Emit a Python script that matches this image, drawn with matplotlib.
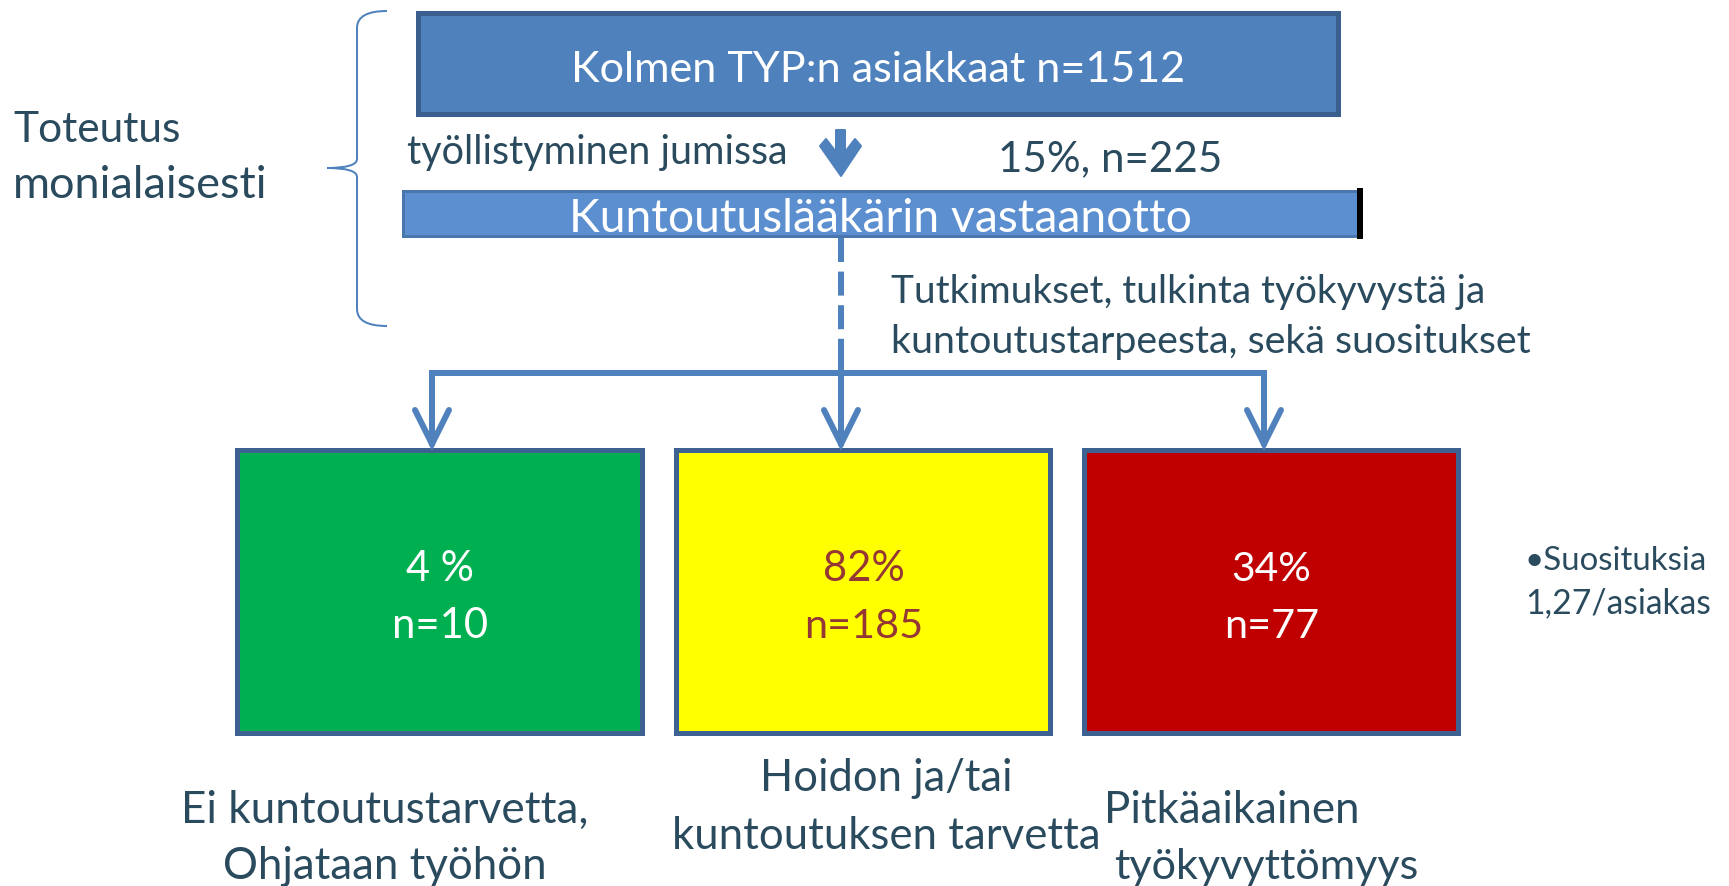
import matplotlib.pyplot as plt
from matplotlib.patches import Rectangle, Polygon, PathPatch
from matplotlib.path import Path

plt.rcParams['font.family'] = ['Lato', 'DejaVu Sans']

# content
side_lines = ["Toteutus", "monialaisesti"]
top_label = "Kolmen TYP:n asiakkaat n=1512"
step_label = "työllistyminen jumissa"
step_share = "15%, n=225"
bar_label = "Kuntoutuslääkärin vastaanotto"
note_lines = ["Tutkimukset, tulkinta työkyvystä ja",
              "kuntoutustarpeesta, sekä suositukset"]
shares = ["4 %", "82%", "34%"]
counts = [10, 185, 77]
outcome_lines = [["Ei kuntoutustarvetta,", "Ohjataan työhön"],
                 ["Hoidon ja/tai", "kuntoutuksen tarvetta"],
                 ["Pitkäaikainen", "työkyvyttömyys"]]
extra_lines = ["•Suosituksia", "1,27/asiakas"]

box_colors = ["#00B050", "#FFFF00", "#C00000"]
box_text_colors = ["white", "#953735", "white"]
TXT = "#2A4A5E"
BLUE = "#4F81BD"

W, H = 1729, 886
fig = plt.figure(figsize=(W / 100, H / 100), dpi=100)
ax = fig.add_axes([0, 0, 1, 1])
ax.set_xlim(0, W)
ax.set_ylim(H, 0)
ax.axis('off')
renderer = fig.canvas.get_renderer()

PX = 0.72  # points per pixel


def fit_text(x, y, s, width, **kw):
    t = ax.text(x, y, s, fontsize=30, va='baseline', **kw)
    bb = t.get_window_extent(renderer)
    t.set_fontsize(30 * width / bb.width)
    return t


# brace
verts = [(387, 11), (357, 11), (357, 28), (357, 159), (357, 168), (327, 168),
         (357, 168), (357, 177), (357, 309), (357, 326), (387, 326)]
codes = [Path.MOVETO, Path.CURVE3, Path.CURVE3, Path.LINETO, Path.CURVE3, Path.CURVE3,
         Path.CURVE3, Path.CURVE3, Path.LINETO, Path.CURVE3, Path.CURVE3]
ax.add_patch(PathPatch(Path(verts, codes), fill=False, ec=BLUE, lw=2 * PX))

fit_text(13, 142, side_lines[0], 168, color=TXT)
fit_text(13, 198, side_lines[1], 255, color=TXT)

# top box
ax.add_patch(Rectangle((418.5, 12.5), 920, 101, fc=BLUE, ec="#3B5F8C", lw=5 * PX))
fit_text(878, 82, top_label, 615, color="white", ha='center')

# small arrow
ax.add_patch(Polygon([(836, 130), (845, 130), (845, 152), (855, 139), (861, 146),
                      (841, 176), (820, 146), (826, 139), (836, 152)],
                     closed=True, fc=BLUE, ec=BLUE, lw=2 * PX, joinstyle='round'))
fit_text(407, 164, step_label, 381, color=TXT)
fit_text(998, 171, step_share, 224, color=TXT)

# second bar
ax.add_patch(Rectangle((403.5, 190.5), 955, 45, fc="#5B8FD0", ec="#4A76AE", lw=3 * PX))
ax.add_patch(Rectangle((1357, 188), 6, 51, fc="black", ec="none"))
fit_text(880, 232, bar_label, 623, color="white", ha='center')

# dashed + connectors
ax.plot([841, 841], [238, 340], color=BLUE, lw=6 * PX, dashes=(4.0, 1.6), solid_capstyle='butt')
ax.plot([841, 841], [340, 446], color=BLUE, lw=6 * PX, solid_capstyle='butt')
ax.plot([432, 1264], [373, 373], color=BLUE, lw=6 * PX, solid_capstyle='butt')
for xa in [432, 1264]:
    ax.plot([xa, xa], [370, 446], color=BLUE, lw=6 * PX, solid_capstyle='butt')
for xa in [432, 841, 1264]:
    ax.plot([xa - 17, xa, xa + 17], [410, 444, 410], color=BLUE, lw=6 * PX,
            solid_capstyle='round', solid_joinstyle='miter')

fit_text(891, 303, note_lines[0], 593, color=TXT)
fit_text(891, 353, note_lines[1], 640, color=TXT)

# result boxes
box_x = [(235, 645), (674, 1053), (1082, 1461)]
share_w = [68, 82, 80]
count_w = [96, 119, 95]
for i, (x0, x1) in enumerate(box_x):
    ax.add_patch(Rectangle((x0 + 2.5, 449.5), x1 - x0 - 5, 283,
                           fc=box_colors[i], ec="#3D6190", lw=5 * PX))
    cx = (x0 + x1) / 2
    fit_text(cx, 581, shares[i], share_w[i], color=box_text_colors[i], ha='center')
    fit_text(cx, 638, f"n={counts[i]}", count_w[i], color=box_text_colors[i], ha='center')

fit_text(1525, 570, extra_lines[0], 182, color=TXT)
fit_text(1525, 613, extra_lines[1], 186, color=TXT)

# outcome labels
fit_text(385, 823, outcome_lines[0][0], 406, color=TXT, ha='center')
fit_text(385, 879, outcome_lines[0][1], 323, color=TXT, ha='center')
fit_text(886, 791, outcome_lines[1][0], 252, color=TXT, ha='center')
fit_text(886, 849, outcome_lines[1][1], 428, color=TXT, ha='center')
fit_text(1104, 823, outcome_lines[2][0], 255, color=TXT)
fit_text(1114, 879, outcome_lines[2][1], 305, color=TXT)

fig.savefig("out.png", dpi=100)
